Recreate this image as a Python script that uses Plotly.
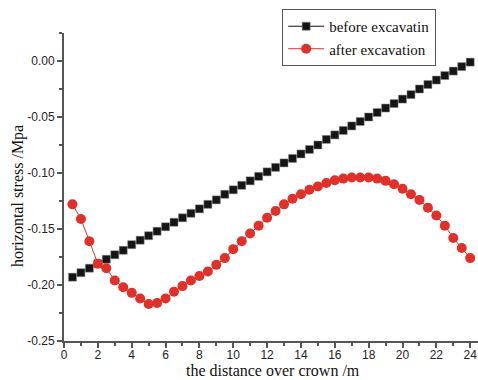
import plotly.graph_objects as go

distance = [0.5, 1.0, 1.5, 2.0, 2.5, 3.0, 3.5, 4.0, 4.5, 5.0, 5.5, 6.0, 6.5, 7.0, 7.5, 8.0,
            8.5, 9.0, 9.5, 10.0, 10.5, 11.0, 11.5, 12.0, 12.5, 13.0, 13.5, 14.0, 14.5, 15.0,
            15.5, 16.0, 16.5, 17.0, 17.5, 18.0, 18.5, 19.0, 19.5, 20.0, 20.5, 21.0, 21.5,
            22.0, 22.5, 23.0, 23.5, 24.0]

before_excavation = [-0.193, -0.189, -0.185, -0.181, -0.177, -0.173, -0.169, -0.164, -0.160,
                     -0.156, -0.152, -0.148, -0.144, -0.140, -0.136, -0.132, -0.128, -0.124,
                     -0.119, -0.115, -0.111, -0.107, -0.103, -0.099, -0.095, -0.091, -0.087,
                     -0.083, -0.079, -0.075, -0.070, -0.066, -0.062, -0.058, -0.054, -0.050,
                     -0.046, -0.042, -0.038, -0.034, -0.030, -0.025, -0.021, -0.017, -0.013,
                     -0.009, -0.005, -0.001]

after_excavation = [-0.128, -0.141, -0.161, -0.181, -0.185, -0.196, -0.202, -0.207, -0.212,
                    -0.217, -0.216, -0.212, -0.206, -0.201, -0.196, -0.192, -0.188, -0.182,
                    -0.176, -0.168, -0.161, -0.154, -0.147, -0.140, -0.134, -0.128, -0.123,
                    -0.119, -0.115, -0.112, -0.109, -0.1065, -0.105, -0.104, -0.104, -0.104,
                    -0.105, -0.107, -0.110, -0.114, -0.119, -0.124, -0.131, -0.138, -0.147,
                    -0.158, -0.167, -0.176]

x_ticks = [0, 2, 4, 6, 8, 10, 12, 14, 16, 18, 20, 22, 24]
x_tick_labels = [str(v) for v in x_ticks]
y_ticks = [0.0, -0.05, -0.10, -0.15, -0.20, -0.25]
y_tick_labels = ["0.00", "-0.05", "-0.10", "-0.15", "-0.20", "-0.25"]
x_title = "the distance over crown /m"
y_title = "horizontal stress /Mpa"

axis_color = "#555555"
serif = "Liberation Serif"
sans = "Liberation Sans"

fig = go.Figure()
fig.add_trace(go.Scatter(
    x=distance, y=before_excavation, mode="lines+markers", name="before excavatin",
    line=dict(color="#111111", width=1),
    marker=dict(symbol="square", size=8, color="#151515", line=dict(color="#888888", width=0.5)),
))
fig.add_trace(go.Scatter(
    x=distance, y=after_excavation, mode="lines+markers", name="after excavation",
    line=dict(color="#e0302a", width=1),
    marker=dict(symbol="circle", size=10, color="#e0302a"),
))

fig.update_layout(
    width=478, height=380,
    margin=dict(l=64, r=0, t=33, b=39),
    paper_bgcolor="white", plot_bgcolor="white",
    showlegend=True,
    font=dict(family=serif),
    legend=dict(
        x=0.527, y=1.078, xanchor="left", yanchor="top",
        bordercolor="#555555", borderwidth=1, bgcolor="white",
        font=dict(family=serif, size=15, color="#111111"),
        tracegroupgap=0, itemwidth=36,
    ),
    annotations=[
        dict(text=y_title, xref="paper", yref="paper", x=-0.111, y=0.471,
             xanchor="center", yanchor="middle", textangle=-90, showarrow=False,
             font=dict(family=serif, size=16, color="#111111")),
        dict(text=x_title, xref="paper", yref="paper", x=0.506, y=-0.1266,
             xanchor="center", yanchor="bottom", showarrow=False, borderpad=0,
             font=dict(family=serif, size=16, color="#111111")),
    ],
)
fig.update_xaxes(
    range=[0, 24.46], tickmode="array", tickvals=x_ticks, ticktext=x_tick_labels,
    showgrid=False, zeroline=False, showline=True, linecolor=axis_color, linewidth=2,
    ticks="outside", tickcolor=axis_color, ticklen=5, tickwidth=1.5,
    minor=dict(ticks="outside", ticklen=3, tickcolor=axis_color, tickwidth=1.5, dtick=1, tick0=0),
    tickfont=dict(family=sans, size=12, color="#222222"), ticklabelstandoff=-3,
)
fig.update_yaxes(
    range=[-0.25, 0.025], tickmode="array", tickvals=y_ticks, ticktext=y_tick_labels,
    showgrid=False, zeroline=False, showline=True, linecolor=axis_color, linewidth=2,
    ticks="outside", tickcolor=axis_color, ticklen=5, tickwidth=1.5,
    minor=dict(ticks="outside", ticklen=3, tickcolor=axis_color, tickwidth=1.5, dtick=0.025, tick0=0),
    tickfont=dict(family=sans, size=12, color="#222222"),
)

fig.write_html("out.html")
